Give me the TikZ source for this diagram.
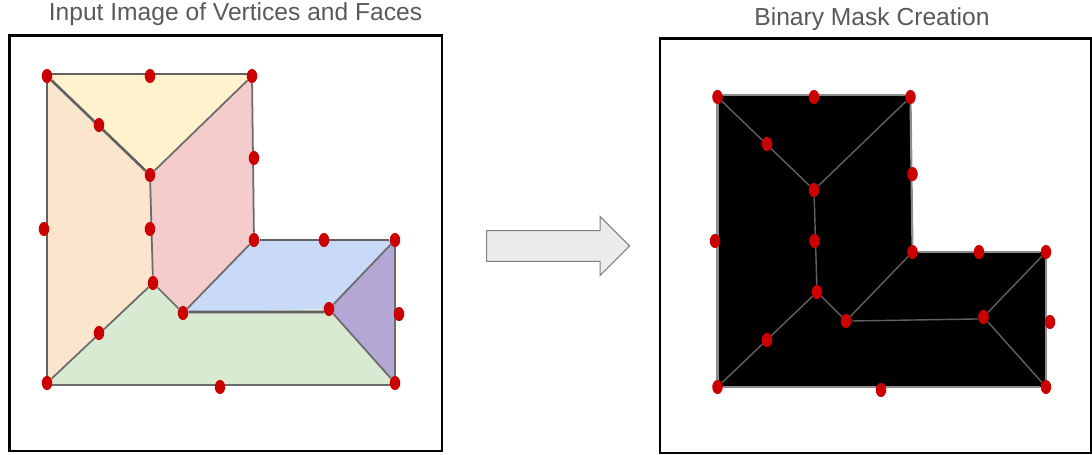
\documentclass[tikz,border=0pt]{standalone}
\usepackage{fontspec}
\setmainfont{Liberation Sans}
\usetikzlibrary{arrows.meta,positioning,shapes.geometric,shapes.arrows,backgrounds}
\definecolor{facey}{HTML}{FFF2CC}
\definecolor{faceo}{HTML}{FCE5CD}
\definecolor{facep}{HTML}{F4CCCC}
\definecolor{faceb}{HTML}{C9DAF8}
\definecolor{facev}{HTML}{B4A7D6}
\definecolor{faceg}{HTML}{D9EAD3}
\definecolor{vtxred}{HTML}{CC0000}
\definecolor{titlegray}{HTML}{595959}
\tikzset{
  frame/.style  = {draw=black, line width=1.2pt},
  vtx/.style    = {ellipse, fill=vtxred, inner sep=0pt, minimum width=6pt, minimum height=8pt},
  faceline/.style  = {draw=black!58, line width=1pt},
  facelineb/.style = {draw=black!62, line width=1.5pt},
  maskedge/.style  = {draw=black!62, line width=0.8pt},
  maskrim/.style   = {draw=black!45, line width=1.2pt},
  title/.style  = {font=\fontsize{14}{17}\selectfont, text=titlegray},
}
\begin{document}
\begin{tikzpicture}[x=0.02cm,y=-0.02cm]
  \useasboundingbox (0,0) rectangle (1092,455);
  % input image
  \node[title] (titlein) at (235.5,14.5) {Input Image of Vertices and Faces};
  \draw[frame] (9.5,35.5) rectangle (442,451);
  \foreach \name/\px/\py in {tl/47/76,tm/150/76,tr/252/76,q/99/125,c/150/175,r/254/158,
      l/44/229,cm/150/229,ic/254/240,t/324/240,rt/395/240,j/153/283,k/183/313,
      m/329/309,rr/399/314,p/99/333,bl/47/383,b/220/387,br/395/383}
    \node[vtx] (a\name) at (\px,\py) {};
  \begin{scope}[on background layer]
  \fill[faceo] (atl.center) -- (ac.center) -- (acm.center) -- (aj.center) -- (abl.center) -- cycle;
  \fill[facep] (atr.center) -- (aic.center) -- (ak.center) -- (aj.center) -- (acm.center) -- (ac.center) -- cycle;
  \fill[faceb] (aic.center) -- (art.center) -- (am.center) -- (ak.center) -- cycle;
  \fill[facev] (art.center) -- (abr.center) -- (am.center) -- cycle;
  \fill[facey] (atl.center) -- (atl.20) -- (atr.160) -- (atr.center) -- (ac.center) -- cycle;
  \fill[faceg] (abl.center) -- (aj.center) -- (ak.center) -- (am.center) -- (abr.center) -- (abr.200) -- (abl.-20) -- cycle;
  \draw[facelineb] (atl.20) -- (atr.160);
  \draw[facelineb] (ak.10) -- (am.210);
  \foreach \from/\to in {tl/bl,tl/c,ic/rt}
    \draw[facelineb] (a\from) -- (a\to);
  \draw[faceline] (abr.200) -- (abl.-20);
  \foreach \from/\to in {tr/ic,rt/br,c/tr,c/j,j/bl,j/k,k/ic,m/rt,m/br}
    \draw[faceline] (a\from) -- (a\to);
  \end{scope}
  % arrow
  \node[single arrow, draw=black!50, fill=black!8, line width=0.6pt, minimum width=33pt,
    minimum height=81.5pt, single arrow head extend=8pt, single arrow tip angle=90,
    inner xsep=0pt, inner ysep=8.5pt, anchor=west] (maskarrow) at (486,246) {};
  % binary mask
  \node[title] (titlemask) at (872,19.5) {Binary Mask Creation};
  \draw[frame] (660,38.5) rectangle (1091.5,453);
  \foreach \name/\px/\py in {tl/717.5/97,tm/814/97,tr/910.5/97,q/767/144,c/814/190,r/912.5/174,
      l/715/241,cm/814.5/241,ic/912.5/252,t/979/252,rt/1046/252,j/817/292,k/846/321,
      m/983.5/317,rr/1050/322,p/767/340,bl/717.5/387,b/881/390,br/1046/387}
    \node[vtx] (b\name) at (\px,\py) {};
  \begin{scope}[on background layer]
  \fill[black] (btl.20) -- (btr.160) -- (btr.center) -- (bic.center) -- (brt.center) -- (bbr.center) -- (bbl.center) -- (btl.center) -- cycle;
  \draw[maskrim] (btl.20) -- (btr.160);
  \foreach \from/\to in {tr/ic,ic/rt,rt/br,br/bl,bl/tl}
    \draw[maskrim] (b\from) -- (b\to);
  \draw[maskedge] (bk.east) -- (bm.200);
  \foreach \from/\to in {tl/c,c/tr,c/j,j/bl,j/k,k/ic,m/rt,m/br}
    \draw[maskedge] (b\from) -- (b\to);
  \end{scope}
\end{tikzpicture}
\end{document}
